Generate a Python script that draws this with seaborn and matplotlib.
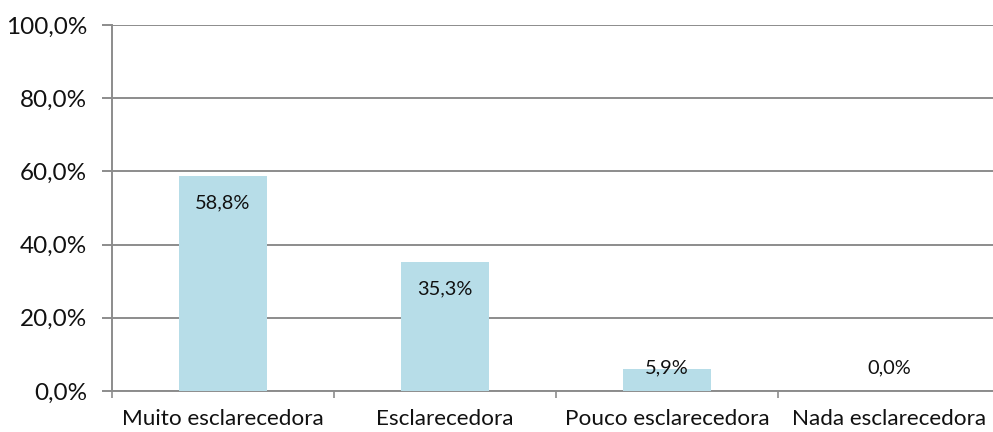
import matplotlib
matplotlib.use("Agg")
import matplotlib.pyplot as plt
import matplotlib.ticker as mticker
import pandas as pd
import seaborn as sns

categories = ["Muito esclarecedora", "Esclarecedora", "Pouco esclarecedora", "Nada esclarecedora"]
values = [58.8, 35.3, 5.9, 0.0]
y_ticks = [0, 20, 40, 60, 80, 100]

sns.set_style("white")
plt.rcParams["font.family"] = ["Lato", "DejaVu Sans"]

df = pd.DataFrame({"categoria": categories, "valor": values})

fig = plt.figure(figsize=(9.93, 4.32), dpi=100)
ax = fig.add_axes([112 / 993, 41 / 432, 888 / 993, 366 / 432])

grid_color = "#8c8c8c"
sns.barplot(data=df, x="categoria", y="valor", color="#b7dde8", saturation=1,
            width=0.4, linewidth=0, ax=ax, zorder=3)

ax.set_ylim(0, 100)
ax.set_xlim(-0.5, len(categories) - 0.5)
ax.set_yticks(y_ticks)
ax.yaxis.set_major_formatter(mticker.FuncFormatter(lambda v, _: f"{v:.1f}".replace(".", ",") + "%"))
ax.yaxis.grid(True, color=grid_color, linewidth=1.4, zorder=0)
ax.set_axisbelow(True)

# category boundaries carry the tick marks, centres carry the labels
ax.set_xticks([i - 0.5 for i in range(len(categories) + 1)])
ax.set_xticklabels([])
ax.set_xticks(range(len(categories)), minor=True)
ax.set_xticklabels(categories, minor=True)
ax.tick_params(axis="x", which="major", direction="out", length=5, width=1.2,
               color=grid_color, bottom=True)
ax.tick_params(axis="x", which="minor", length=0, pad=13, labelsize=16.2, labelcolor="#111111")
ax.tick_params(axis="y", direction="out", length=7, width=1.4, color=grid_color,
               left=True, labelsize=17.5, labelcolor="#111111", pad=11)

for side in ["top", "right"]:
    ax.spines[side].set_visible(False)
for side in ["left", "bottom"]:
    ax.spines[side].set_color(grid_color)
    ax.spines[side].set_linewidth(1.4)

ax.set_xlabel("")
ax.set_ylabel("")

# value labels just inside the bar top, kept above the floor for short bars
for i, v in enumerate(values):
    y = max(v - 7.4, 6.4)
    ax.text(i, y, f"{v:.1f}".replace(".", ",") + "%", ha="center", va="center",
            fontsize=14.4, color="#111111", zorder=4)

fig.savefig("out.png", dpi=100)
